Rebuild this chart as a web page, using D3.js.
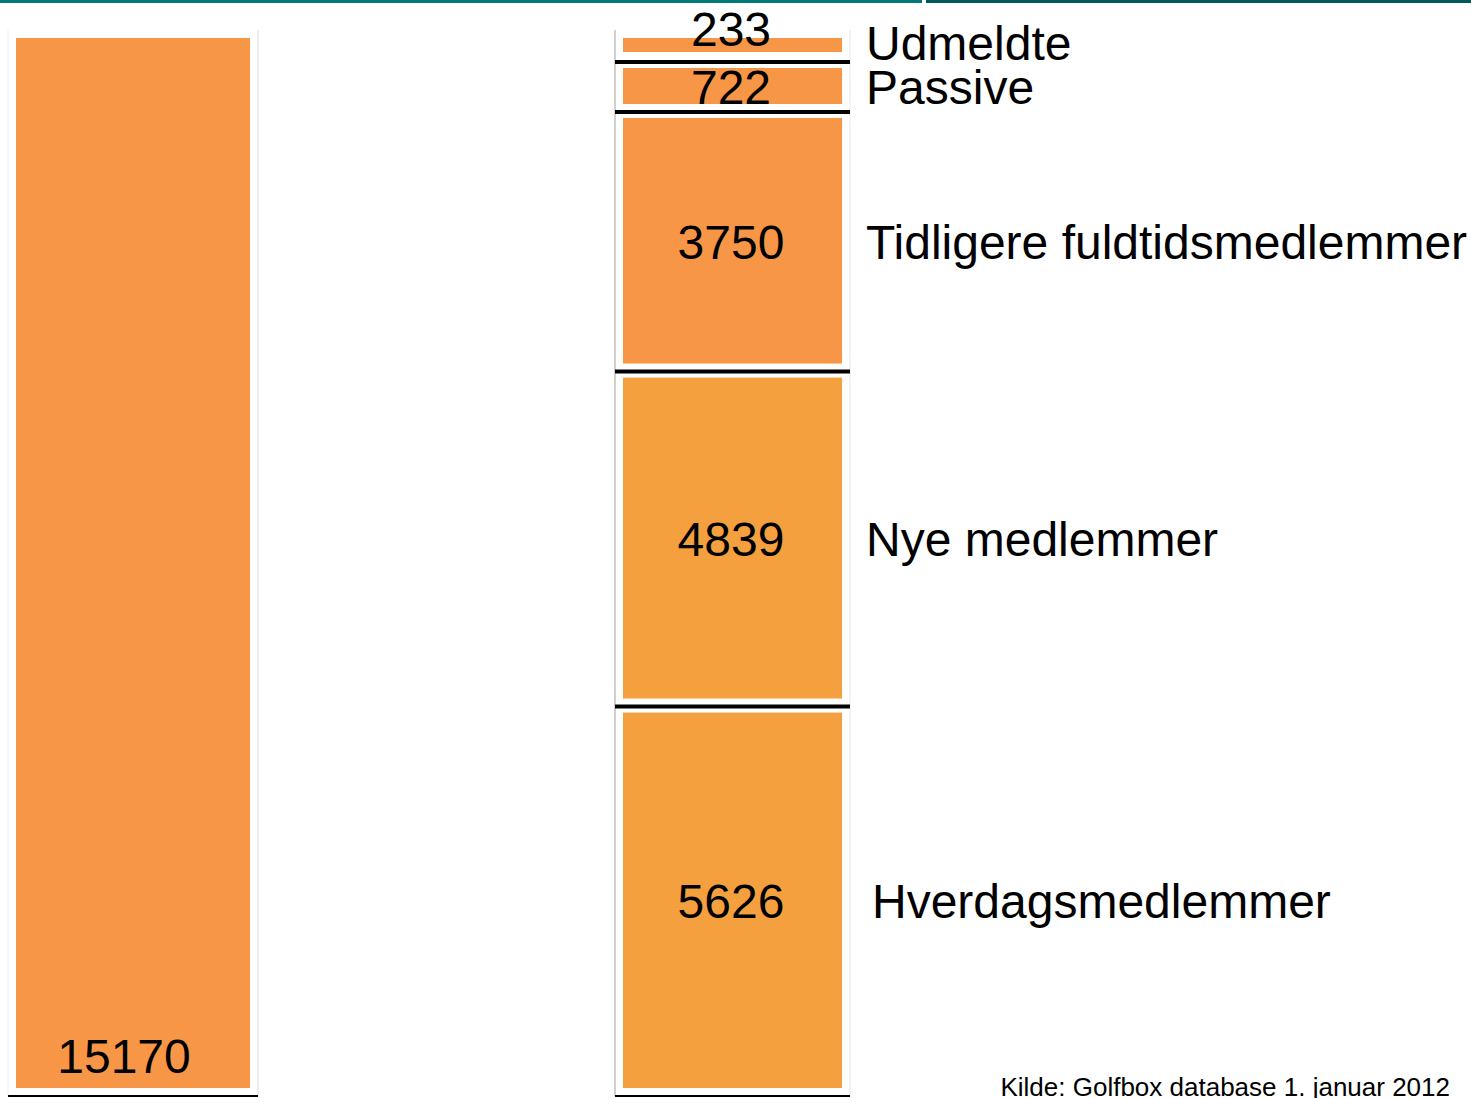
<!DOCTYPE html>
<html>
<head>
<meta charset="utf-8">
<script src="https://cdn.jsdelivr.net/npm/d3@7"></script>
<style>
  html, body { margin: 0; padding: 0; background: #fff; }
  svg { display: block; }
</style>
</head>
<body>
<div id="chart"></div>
<script>
// data, bottom to top
const categories = ["Hverdagsmedlemmer", "Nye medlemmer", "Tidligere fuldtidsmedlemmer", "Passive", "Udmeldte"];
const values = [5626, 4839, 3750, 722, 233];
const total = 15170;
const source = "Kilde: Golfbox database 1. januar 2012";

const width = 1471;
const height = 1098;
const font = "Liberation Sans, Arial, Helvetica, sans-serif";

const svg = d3.select("#chart")
  .append("svg")
  .attr("width", width)
  .attr("height", height);

const yTop = 30, yBottom = 1096;
const inset = 8; // white gap between frame and the coloured block

// left bar: plain linear scale
const y = d3.scaleLinear()
  .domain([0, total])
  .range([yBottom, yTop]);

// ---------------- top rule ----------------
svg.append("rect").attr("x", 0).attr("y", 0).attr("width", 922).attr("height", 3).attr("fill", "#007878");
svg.append("rect").attr("x", 926).attr("y", 0).attr("width", width - 926).attr("height", 3).attr("fill", "#005a5a");

// ---------------- left total bar ----------------
const left = { x0: 8, x1: 258 };

svg.append("line")
  .attr("x1", left.x0).attr("x2", left.x0)
  .attr("y1", y(total)).attr("y2", y(0))
  .attr("stroke", "#eeeeee").attr("stroke-width", 1);
svg.append("line")
  .attr("x1", left.x1).attr("x2", left.x1)
  .attr("y1", y(total)).attr("y2", y(0))
  .attr("stroke", "#dddddd").attr("stroke-width", 1);

svg.append("rect")
  .attr("x", left.x0 + inset)
  .attr("y", y(total) + inset)
  .attr("width", left.x1 - left.x0 - 2 * inset)
  .attr("height", y(0) - y(total) - 2 * inset)
  .attr("fill", "#F79646");

svg.append("line")
  .attr("x1", left.x0).attr("x2", left.x1)
  .attr("y1", y(0)).attr("y2", y(0))
  .attr("stroke", "#000").attr("stroke-width", 2);

svg.append("text")
  .attr("x", 124)
  .attr("y", 1073)
  .attr("text-anchor", "middle")
  .attr("font-family", font)
  .attr("font-size", "48px")
  .attr("fill", "#000")
  .text(total);

// ---------------- right stacked bar ----------------
// tiny segments get a minimum cell so their labels fit, the rest is linear
const minCell = 32;
const kFull = (yBottom - yTop) / total;
const small = values.map((v) => v * kFull < minCell);
const bigSum = d3.sum(values.filter((v, i) => !small[i]));
const hScale = d3.scaleLinear()
  .domain([0, bigSum])
  .range([0, yBottom - yTop - minCell * small.filter(Boolean).length]);

const right = { x0: 615, x1: 850 };
const colors = ["#F5A03F", "#F5A03F", "#F79646", "#F79646", "#F79646"];

let pos = yBottom;
const segs = values.map((v, i) => {
  const h = small[i] ? minCell : hScale(v);
  const s = { cat: categories[i], value: v, y1: pos, y0: pos - h, color: colors[i], i };
  pos -= h;
  return s;
});

svg.append("line")
  .attr("x1", right.x0).attr("x2", right.x0)
  .attr("y1", yTop).attr("y2", yBottom)
  .attr("stroke", "#c0c0c0").attr("stroke-width", 1.5);
svg.append("line")
  .attr("x1", right.x1).attr("x2", right.x1)
  .attr("y1", yTop).attr("y2", yBottom)
  .attr("stroke", "#e4e4e4").attr("stroke-width", 1);

const seg = svg.append("g")
  .selectAll("g.seg")
  .data(segs)
  .join("g")
  .attr("class", "seg");

seg.append("rect")
  .attr("x", right.x0 + inset)
  .attr("y", (d) => d.y0 + (d.i === 4 ? inset : 6))
  .attr("width", right.x1 - right.x0 - 2 * inset)
  .attr("height", (d) => Math.max(0, d.y1 - d.y0 - (d.i === 4 ? inset : 6) - (d.i === 4 ? 10 : inset)))
  .attr("fill", (d) => d.color);

// black separators at the bottom of every cell
seg.append("line")
  .attr("x1", right.x0).attr("x2", right.x1)
  .attr("y1", (d) => d.y1).attr("y2", (d) => d.y1)
  .attr("stroke", "#000").attr("stroke-width", (d) => d.i === 0 ? 2 : 4);

// value labels
seg.append("text")
  .attr("x", 731)
  .attr("y", (d) => d.i === 4 ? d.y0 + 16 : (d.y0 + d.y1) / 2)
  .attr("dy", (d) => d.i === 4 ? 0 : "0.35em")
  .attr("text-anchor", "middle")
  .attr("font-family", font)
  .attr("font-size", "48px")
  .attr("fill", "#000")
  .text((d) => d.value);

// category labels
seg.append("text")
  .attr("x", (d) => d.i === 0 ? 872 : 866)
  .attr("y", (d) => d.i === 4 ? d.y0 + 30 : (d.y0 + d.y1) / 2)
  .attr("dy", (d) => d.i === 4 ? 0 : "0.35em")
  .attr("font-family", font)
  .attr("font-size", "48px")
  .attr("fill", "#000")
  .text((d) => d.cat);

// source
svg.append("text")
  .attr("x", 1450)
  .attr("y", 1096)
  .attr("text-anchor", "end")
  .attr("font-family", font)
  .attr("font-size", "26px")
  .attr("fill", "#000")
  .text(source);
</script>
</body>
</html>
